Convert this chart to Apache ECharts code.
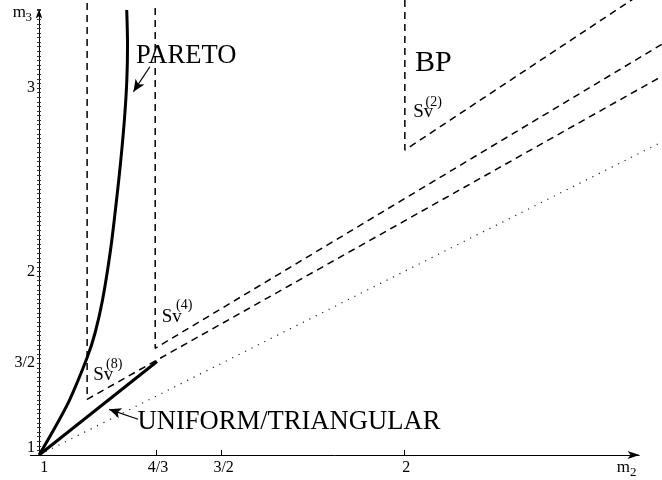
<!DOCTYPE html>
<html><head><meta charset="utf-8">
<script src="https://cdn.jsdelivr.net/npm/echarts@6/dist/echarts.min.js"></script>
<style>html,body{margin:0;padding:0;background:#fff}#c{width:662px;height:480px}</style>
</head><body><div id="c"></div>
<script>
// ---- data ----
const xTicks = [1, 1.32, 1.5, 2];
const xTickLabels = ['1', '4/3', '3/2', '2'];
const yTicks = [1, 1.5, 2, 3];
const yTickLabels = ['1', '3/2', '2', '3'];

const pareto = [[1,1],[1.0395,1.1362],[1.0833,1.2997],[1.1321,1.5341],[1.1532,1.6649],[1.1737,1.8447],[1.1956,2.1172],[1.2121,2.3896],[1.2238,2.6076],[1.2340,2.8365],[1.2403,3.0436],[1.2422,3.2343],[1.2400,3.4251]];
const uniform = [[1,1],[1.323,1.5095]];
const diagonal = [[1,1],[2.75,2.75]];
const sv8 = [[1.1315,3.463],[1.1315,1.3035],[2.6877,3.0436],[2.75,3.113]];
const sv4 = [[1.318,3.436],[1.318,1.5815],[2.6877,3.2163],[2.75,3.291]];
const sv2 = [[2.002,3.48],[2.002,2.6621],[2.6093,3.4616],[2.65,3.515]];
const paretoArrow = [[1.3033,3.116],[1.2584,2.980]];
const uniformArrow = [[1.2712,1.1946],[1.1918,1.249]];
const xAxisLine = [[0.975,1],[2.645,1]];

const FF = '"Liberation Serif", "Times New Roman", serif';
const chart = echarts.init(document.getElementById('c'), null, {renderer: 'canvas'});

function txt(text, x, y, size) {
  return {type: 'text', x: x, y: y, silent: true, z: 100,
    style: {text: text, font: size + 'px ' + FF, fill: '#000', align: 'left', verticalAlign: 'middle'}};
}
const dashStyle = {color: '#000', width: 1.5, type: [7, 5]};
function lineSeries(data, style, extra) {
  return Object.assign({type: 'line', data: data, showSymbol: false, symbol: 'none', clip: false,
    silent: true, lineStyle: style}, extra || {});
}
const yAxisBase = {type: 'value', position: 'left', offset: -9, min: 1, max: 3.428, interval: 0.025,
  splitLine: {show: false}};

chart.setOption({
  animation: false,
  backgroundColor: '#fff',
  grid: {left: 30, right: 0, top: 9.5, bottom: 25, containLabel: false, outerBoundsMode: 'none'},
  xAxis: {
    type: 'value', min: 0.975, max: 2.7065, splitLine: {show: false},
    axisLine: {show: false},
    axisTick: {show: true, inside: true, length: 5, customValues: xTicks.slice(1), lineStyle: {color: '#000'}},
    axisLabel: {
      customValues: xTicks, margin: 5, color: '#000', fontFamily: FF, fontSize: 16,
      formatter: function (v) {
        const i = xTicks.indexOf(v);
        const t = i >= 0 ? xTickLabels[i] : '';
        return i === 0 ? '{o|' + t + '}' : '{n|' + t + '}';
      },
      rich: {
        o: {fontFamily: FF, fontSize: 16, color: '#000', padding: [0, 0, 0, 10]},
        n: {fontFamily: FF, fontSize: 16, color: '#000', padding: [0, 0, 0, 4]}
      }
    }
  },
  yAxis: [
    Object.assign({}, yAxisBase, {
      axisLine: {show: true, symbol: ['none', 'arrow'], symbolSize: [5, 9], lineStyle: {color: '#000', width: 1}},
      axisTick: {show: true, inside: false, length: 2, lineStyle: {color: '#333'}},
      axisLabel: {
        customValues: yTicks, margin: 4, color: '#000', fontFamily: FF, fontSize: 16,
        formatter: function (v) {
          const i = yTicks.indexOf(v);
          const t = i >= 0 ? yTickLabels[i] : '';
          return i === 0 ? '{o|' + t + '}' : '{n|' + t + '}';
        },
        rich: {
          o: {fontFamily: FF, fontSize: 16, color: '#000', padding: [0, 0, 14, 0]},
          n: {fontFamily: FF, fontSize: 16, color: '#000'}
        }
      }
    }),
    Object.assign({}, yAxisBase, {
      axisLine: {show: false},
      axisTick: {show: true, inside: true, length: 2, lineStyle: {color: '#333'}},
      axisLabel: {show: false}
    })
  ],
  series: [
    lineSeries(diagonal, {color: '#222', width: 1.2, type: [1.2, 6]}),
    lineSeries(sv8, dashStyle),
    lineSeries(sv4, dashStyle),
    lineSeries(sv2, dashStyle),
    lineSeries(pareto, {color: '#000', width: 3}, {smooth: 0.3}),
    lineSeries(uniform, {color: '#000', width: 3}, {
      markLine: {
        silent: true, animation: false, symbol: ['none', 'arrow'], symbolSize: [8, 12],
        label: {show: false},
        lineStyle: {color: '#000', width: 1.2, type: 'solid'},
        data: [
          [{coord: paretoArrow[0]}, {coord: paretoArrow[1]}],
          [{coord: uniformArrow[0]}, {coord: uniformArrow[1]}],
          [{coord: xAxisLine[0], symbol: 'none'}, {coord: xAxisLine[1], symbol: 'arrow', symbolSize: [6, 12], lineStyle: {width: 1}}]
        ]
      }
    })
  ],
  graphic: [
    txt('PARETO', 136, 56, 26.6),
    txt('BP', 415, 63.3, 30),
    txt('UNIFORM/TRIANGULAR', 137.5, 422.5, 26.6),
    txt('Sv', 93.3, 375.4, 19), txt('(8)', 106, 364.5, 14),
    txt('Sv', 161.7, 317, 19), txt('(4)', 176, 305, 14),
    txt('Sv', 413.3, 112, 19), txt('(2)', 425.5, 102, 14),
    txt('m', 12.7, 12.7, 17), txt('3', 25.5, 17.7, 13),
    txt('m', 616.7, 467.9, 17), txt('2', 630, 473, 13)
  ]
});
</script>
</body></html>
